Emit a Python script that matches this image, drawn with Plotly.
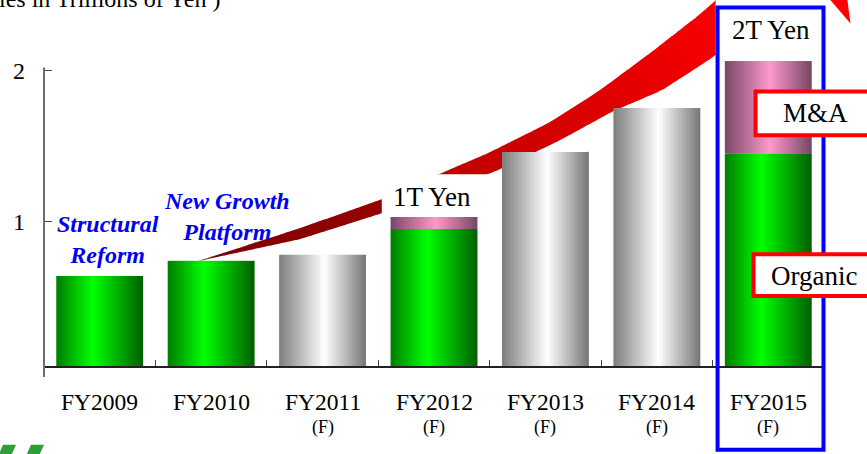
import numpy as np
import plotly.graph_objects as go

# ---------------- data ----------------
categories = ["FY2009", "FY2010", "FY2011", "FY2012", "FY2013", "FY2014", "FY2015"]
organic = [0.64, 0.74, 0.78, 0.95, 1.46, 1.75, 1.45]   # lower segment (trillion yen)
mna = [0.0, 0.0, 0.0, 0.08, 0.0, 0.0, 0.61]             # M&A segment on top
is_forecast = [False, False, True, True, True, True, True]
bar_style = ["green", "green", "gray", "green", "gray", "gray", "green"]
y_ticks = [1, 2]

# ---------------- geometry helpers (pixel -> paper) ----------------
W, H = 867, 454
L, R, T, B = 44, 824.5, 54.5, 366
def px(x):
    return (x - L) / (R - L)
def py(y):
    return (B - y) / (B - T)

FONT = "Liberation Serif, Times New Roman, serif"

grads = {
    "green": [(0.0, (0, 125, 0)), (0.42, (0, 255, 0)), (1.0, (0, 95, 0))],
    "gray": [(0.0, (125, 125, 125)), (0.52, (255, 255, 255)), (1.0, (118, 118, 118))],
    "pink": [(0.0, (120, 72, 102)), (0.52, (255, 153, 204)), (1.0, (118, 70, 100))],
}
def gcol(name, t):
    stops = grads[name]
    ts = [s[0] for s in stops]
    c = [int(round(np.interp(t, ts, [s[1][k] for s in stops]))) for k in range(3)]
    return "rgb(%d,%d,%d)" % tuple(c)

fig = go.Figure()

BW = 0.78
N = 32
step = BW / N
base_lower = [0.0] * len(categories)
for i in range(N):
    t = (i + 0.5) / N
    off = -BW / 2 + i * step
    w = step * 1.7 if i < N - 1 else step
    fig.add_trace(go.Bar(
        x=categories, y=organic, base=base_lower, offset=off, width=w,
        marker=dict(color=[gcol(s, t) for s in bar_style], line=dict(width=0)),
        showlegend=False, hoverinfo="skip"))
    fig.add_trace(go.Bar(
        x=categories, y=mna, base=organic, offset=off, width=w,
        marker=dict(color=gcol("pink", t), line=dict(width=0)),
        showlegend=False, hoverinfo="skip"))

shapes = []

# ---------------- big curved arrow (gradient) ----------------
up_x = [198, 300, 382, 439, 490, 550, 600, 650, 700, 716, 760]
up_y = [261, 228, 199, 174, 152, 122, 90, 53, 14, 0, -40]
lo_x = [198, 300, 382, 439, 488, 500, 560, 613, 662, 716, 790]
lo_y = [261, 239, 213, 192, 174, 169, 140, 111, 90, 55, -30]
col_x = [198, 382, 440, 560, 650, 716, 800]
col_r = [125, 150, 190, 215, 235, 252, 255]

xs = np.linspace(198, 760, 90)
for k in range(len(xs) - 1):
    x0, x1 = xs[k], xs[k + 1] + 0.8
    u0, u1 = np.interp(x0, up_x, up_y), np.interp(x1, up_x, up_y)
    l0x = x0 + (x0 - 198) * (790 - 760) / (760 - 198)
    l1x = x1 + (x1 - 198) * (790 - 760) / (760 - 198)
    l0, l1 = np.interp(l0x, lo_x, lo_y), np.interp(l1x, lo_x, lo_y)
    r = int(np.interp((x0 + x1) / 2, col_x, col_r))
    path = "M {:.5f},{:.5f} L {:.5f},{:.5f} L {:.5f},{:.5f} L {:.5f},{:.5f} Z".format(
        px(x0), py(u0), px(x1), py(u1), px(l1x), py(l1), px(l0x), py(l0))
    shapes.append(dict(type="path", xref="paper", yref="paper", path=path,
                       fillcolor="rgb(%d,0,0)" % r, line=dict(width=0), layer="below"))

# arrow head
head = [(851, 23), (775, -66), (839, -69)]
shapes.append(dict(type="path", xref="paper", yref="paper",
                   path="M " + " L ".join("{:.5f},{:.5f}".format(px(a), py(b)) for a, b in head) + " Z",
                   fillcolor="rgb(255,0,0)", line=dict(width=0), layer="below"))

# white box behind "1T Yen"
shapes.append(dict(type="rect", xref="paper", yref="paper",
                   x0=px(382), x1=px(489), y0=py(216), y1=py(174),
                   fillcolor="white", line=dict(width=0), layer="below"))

# y axis line (extends below baseline)
shapes.append(dict(type="line", xref="paper", yref="paper",
                   x0=px(44), x1=px(44), y0=py(67), y1=py(377),
                   line=dict(color="#6e6e6e", width=2), layer="above"))

# white label area for "2T Yen" then blue frame
shapes.append(dict(type="rect", xref="paper", yref="paper",
                   x0=px(716), x1=px(826), y0=py(52), y1=py(-6),
                   fillcolor="white", line=dict(width=0), layer="above"))
shapes.append(dict(type="rect", xref="paper", yref="paper",
                   x0=px(718), x1=px(824), y0=py(450), y1=py(7),
                   fillcolor="rgba(0,0,0,0)", line=dict(color="#0000ff", width=4), layer="above"))

# red label boxes
shapes.append(dict(type="rect", xref="paper", yref="paper",
                   x0=px(756), x1=px(890), y0=py(135), y1=py(91),
                   fillcolor="white", line=dict(color="#ff0000", width=4), layer="above"))
shapes.append(dict(type="rect", xref="paper", yref="paper",
                   x0=px(754), x1=px(890), y0=py(296), y1=py(254),
                   fillcolor="white", line=dict(color="#ff0000", width=4), layer="above"))

# green logo fragments at bottom-left
for x0 in (0, 28):
    pts = [(x0 - 2, 456), (x0 + 3, 445), (x0 + 16, 445), (x0 + 11, 456)]
    shapes.append(dict(type="path", xref="paper", yref="paper",
                       path="M " + " L ".join("{:.5f},{:.5f}".format(px(a), py(b)) for a, b in pts) + " Z",
                       fillcolor="#2f9e3a", line=dict(width=0), layer="above"))

annotations = []
def ann(text, x, y, size, color="black", xanchor="center", yanchor="middle", **kw):
    annotations.append(dict(text=text, x=px(x), y=py(y), xref="paper", yref="paper",
                            showarrow=False, xanchor=xanchor, yanchor=yanchor,
                            font=dict(family=FONT, size=size, color=color), **kw))

# category labels
for cat, fc in zip(categories, is_forecast):
    annotations.append(dict(text=cat, x=cat, y=py(402), xref="x", yref="paper", showarrow=False,
                            xanchor="center", yanchor="middle",
                            font=dict(family=FONT, size=23.5, color="black")))
    if fc:
        annotations.append(dict(text="(F)", x=cat, y=py(428), xref="x", yref="paper", showarrow=False,
                                xanchor="center", yanchor="middle",
                                font=dict(family=FONT, size=18, color="black")))

ann("(Sales in Trillions of Yen )", 222, 13, 24, xanchor="right", yanchor="bottom")
ann("<b><i>Structural<br>Reform</i></b>", 108, 239, 24, color="#0000ee")
ann("<b><i>New Growth<br>Platform</i></b>", 227, 216, 24, color="#0000ee")
ann("1T Yen", 432, 197, 27)
ann("2T Yen", 771, 29, 27)
ann("M&A", 816, 113, 27)
ann("Organic", 814, 276, 27)

fig.update_layout(
    width=W, height=H,
    margin=dict(l=L, r=W - R, t=T, b=H - B, pad=0, autoexpand=False),
    paper_bgcolor="white", plot_bgcolor="rgba(0,0,0,0)",
    barmode="overlay", showlegend=False,
    shapes=shapes, annotations=annotations,
    font=dict(family=FONT, color="black"),
    xaxis=dict(type="category", range=[-0.5, 6.5], tickson="boundaries", ticks="inside",
               ticklen=6, tickcolor="#444", tickwidth=1, showticklabels=False,
               showline=True, linecolor="#222", linewidth=1.5, showgrid=False, zeroline=False,
               fixedrange=True, automargin=False),
    yaxis=dict(range=[0.0455, 2.1], tickvals=y_ticks, ticktext=[str(v) for v in y_ticks],
               ticks="inside", ticklen=8, tickcolor="#444", tickwidth=1,
               ticklabelstandoff=18, tickfont=dict(family=FONT, size=24, color="black"),
               showline=False, showgrid=False, zeroline=False, fixedrange=True, automargin=False),
)

fig.write_html("out.html", config={"displayModeBar": False},
               post_script="document.body.style.margin='0';document.body.style.overflow='hidden';")
